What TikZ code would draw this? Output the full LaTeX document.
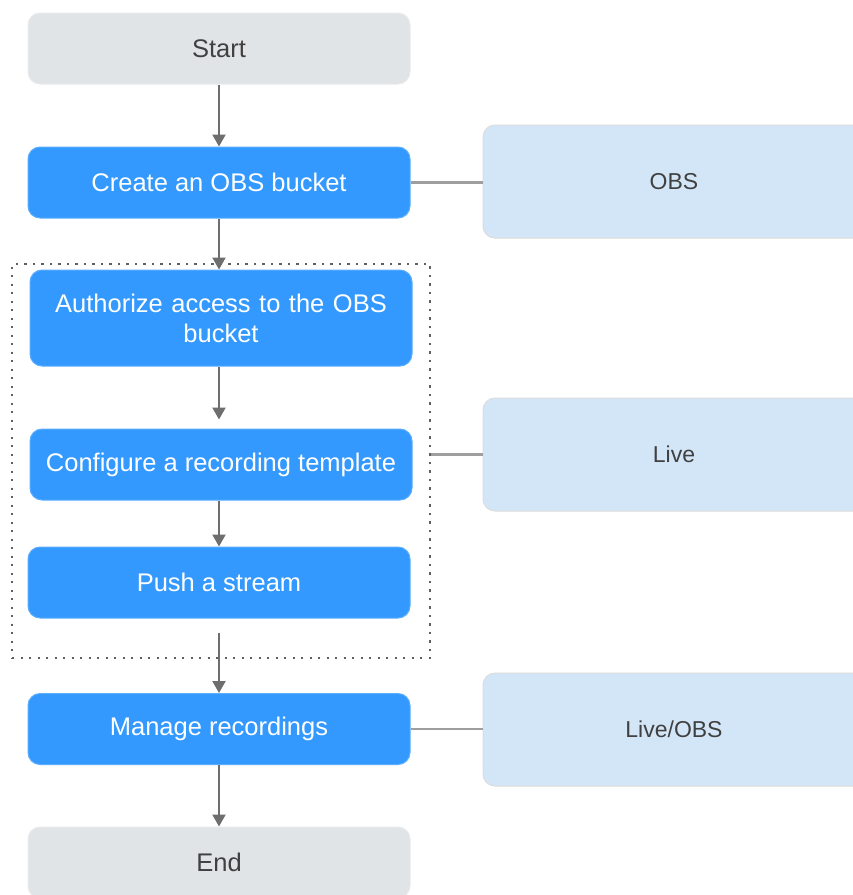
\documentclass[tikz,border=0pt]{standalone}
\usepackage{fontspec}
\setmainfont{Liberation Sans}
\usetikzlibrary{arrows.meta}
\definecolor{bluefill}{HTML}{3399FF}
\definecolor{blueedge}{HTML}{5AAEFF}
\definecolor{grayfill}{HTML}{E1E4E6}
\definecolor{grayedge}{HTML}{E9EBEC}
\definecolor{lightfill}{HTML}{D3E6F8}
\definecolor{lightedge}{HTML}{DCDCDC}
\definecolor{txtdark}{HTML}{404040}
\definecolor{arrowgray}{HTML}{6E6E6E}
\definecolor{linkgray}{HTML}{9E9E9E}
\definecolor{dotgray}{HTML}{606060}
\begin{document}
\begin{tikzpicture}[x=1pt,y=-1pt,
  base/.style={rounded corners=12pt, inner sep=0pt, line width=1pt,
    minimum width=382pt, minimum height=71pt, align=center,
    font=\fontsize{25.5}{30}\selectfont},
  stepbox/.style={base, fill=bluefill, draw=blueedge, text=white},
  termbox/.style={base, fill=grayfill, draw=grayedge, text=txtdark},
  sidebox/.style={base, fill=lightfill, draw=lightedge, text=txtdark,
    minimum height=113pt, font=\fontsize{23}{28}\selectfont},
  groupbox/.style={draw=dotgray, line width=2.2pt, dash pattern=on 2.2pt off 6.3pt,
    inner sep=0pt, minimum width=418pt, minimum height=394pt},
  flow/.style={draw=arrowgray, line width=2.2pt, -{Triangle[width=13pt,length=12pt]}},
  link/.style={draw=linkgray, line width=2.8pt}
]
\useasboundingbox (0,0) rectangle (853,895);
\fill[white] (0,0) rectangle (853,895);

\node[groupbox] (grp) at (221,461) {};

\node[termbox] (start) at (219,48.5) {\raisebox{-1.5pt}{Start}};
\node[stepbox] (create) at (219,182.5) {\raisebox{-1.5pt}{Create an OBS bucket}};
\node[stepbox, minimum height=96pt, text width=370pt] (auth) at (221,318) {Authorize access to the OBS\\bucket};
\node[stepbox] (conf) at (221,464.5) {\raisebox{-1.5pt}{Configure a recording template}};
\node[stepbox] (push) at (219,582.5) {\raisebox{-1.5pt}{Push a stream}};
\node[stepbox] (manage) at (219,729) {\raisebox{-1.5pt}{Manage recordings}};
\node[termbox] (end) at (219,862.5) {\raisebox{-1.5pt}{End}};

\node[sidebox] (obs) at (674,181.5) {\raisebox{-1pt}{OBS}};
\node[sidebox] (live) at (674,454.5) {\raisebox{-1pt}{Live}};
\node[sidebox] (lobs) at (674,729.5) {\raisebox{-1pt}{Live/OBS}};

\draw[flow] (start.south) -- (create.north);
\draw[flow] (create.south) -- (create.south |- auth.north);
\draw[flow, shorten >=9pt] (auth.south -| create.south) -- (create.south |- conf.north);
\draw[flow] (conf.south -| create.south) -- (push.north);
\draw[flow, shorten <=14pt] (push.south) -- (manage.north);
\draw[flow] (manage.south) -- (end.north);

\draw[link] (create.east) -- (create.east -| obs.west);
\draw[link] (grp.east |- live.west) -- (live.west);
\draw[link] (manage.east) -- (manage.east -| lobs.west);
\end{tikzpicture}
\end{document}
